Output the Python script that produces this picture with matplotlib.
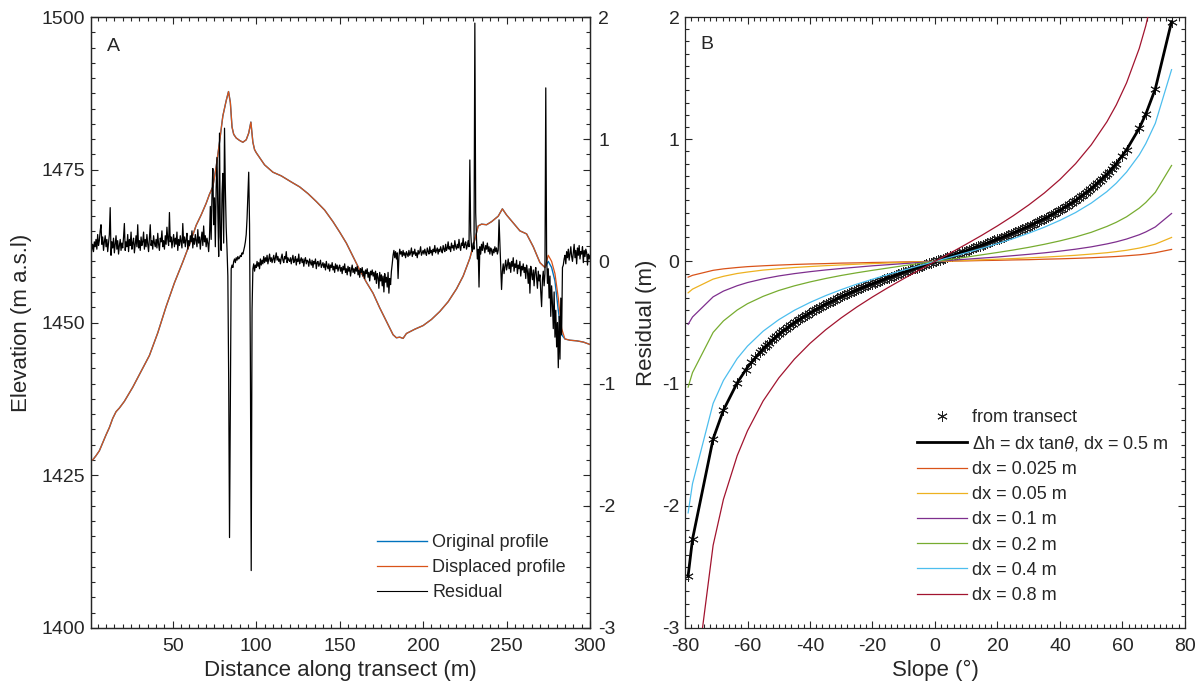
import numpy as np
import matplotlib
matplotlib.use("Agg")
import matplotlib.pyplot as plt
from matplotlib.ticker import MultipleLocator, FixedLocator
from matplotlib.lines import Line2D

plt.rcParams['font.family'] = ['Liberation Sans', 'DejaVu Sans']
plt.rcParams['mathtext.fontset'] = 'custom'
plt.rcParams['mathtext.rm'] = 'Liberation Sans'
plt.rcParams['mathtext.it'] = 'Liberation Sans:italic'
plt.rcParams['axes.unicode_minus'] = False

# ---------------- Panel A data ----------------
prof_x = [0, 2, 4, 6, 8, 10, 12, 14, 16, 18, 21, 26, 31, 36, 41, 46, 51, 56, 61, 64, 67, 70,
          72, 74, 76, 78, 80, 82, 83.4, 84.5, 85.5, 86.5, 88, 90, 92, 94, 95.5, 96.8, 98, 99, 100,
          105, 110, 115, 121, 126, 131, 136, 141, 146, 150, 154, 158, 162, 166, 170, 174, 178,
          182, 184, 186, 188, 190, 195, 200, 205, 210, 215, 220, 224, 228, 231, 233, 235, 238,
          241, 245, 247.5, 250, 254, 258, 262, 266, 270, 273, 275, 277, 279, 281, 283, 285, 288,
          292, 296, 300]
orig_elev = [1427.5, 1427.5, 1428.2, 1429.0, 1430.3, 1431.6, 1432.8, 1434.3, 1435.4, 1436.0,
             1437.1, 1439.4, 1442.0, 1444.6, 1448.3, 1452.6, 1456.5, 1459.9, 1463.5, 1465.9,
             1467.6, 1469.5, 1471.0, 1472.2, 1475.5, 1479.5, 1483.8, 1486.3, 1487.8, 1486.0,
             1482.0, 1480.8, 1480.2, 1479.8, 1479.5, 1479.9, 1481.0, 1482.8, 1479.5, 1478.3,
             1477.8, 1475.8, 1474.6, 1474.0, 1473.0, 1472.2, 1471.1, 1469.8, 1468.4, 1466.5,
             1464.8, 1463.0, 1460.8, 1458.6, 1456.6, 1454.8, 1452.4, 1450.2, 1448.0, 1447.5,
             1447.6, 1447.4, 1448.2, 1448.9, 1449.5, 1450.5, 1451.8, 1453.4, 1455.5, 1457.6,
             1460.5, 1463.6, 1465.8, 1466.1, 1466.0, 1466.5, 1467.4, 1468.6, 1467.6, 1466.3,
             1465.0, 1464.5, 1462.4, 1459.8, 1459.0, 1460.0, 1459.0, 1456.8, 1452.0, 1448.0,
             1447.3, 1447.1, 1447.0, 1446.8, 1446.4]
disp_elev = [1427.5, 1427.5, 1428.2, 1429.0, 1430.3, 1431.6, 1432.8, 1434.3, 1435.4, 1436.0,
             1437.1, 1439.4, 1442.0, 1444.6, 1448.3, 1452.6, 1456.5, 1459.9, 1463.5, 1465.9,
             1467.6, 1469.5, 1471.0, 1472.2, 1475.5, 1479.5, 1483.8, 1486.3, 1487.8, 1486.0,
             1482.0, 1480.8, 1480.2, 1479.8, 1479.5, 1479.9, 1481.0, 1482.8, 1479.5, 1478.3,
             1477.8, 1475.8, 1474.6, 1474.0, 1473.0, 1472.2, 1471.1, 1469.8, 1468.4, 1466.5,
             1464.8, 1463.0, 1460.8, 1458.6, 1456.6, 1454.8, 1452.4, 1450.2, 1448.0, 1447.5,
             1447.6, 1447.4, 1448.2, 1448.9, 1449.5, 1450.5, 1451.8, 1453.4, 1455.5, 1457.6,
             1460.5, 1463.6, 1465.8, 1466.1, 1466.0, 1466.5, 1467.4, 1468.6, 1467.6, 1466.3,
             1465.0, 1464.5, 1462.4, 1459.8, 1459.0, 1461.0, 1460.0, 1458.0, 1454.0, 1449.0,
             1447.3, 1447.1, 1447.0, 1446.8, 1446.4]

# residual, sampled every 0.5 m from 0 m
residual = [
    0.00, 0.02, 0.05, 0.10, 0.14, 0.08, 0.16, 0.12, 0.18, 0.10, 0.22, 0.13, 0.17, 0.25, 0.30, 0.14, 0.20, 0.09, 0.16, 0.21,
    0.12, 0.18, 0.08, 0.15, 0.22, 0.44, 0.05, 0.16, 0.11, 0.19, 0.07, 0.14, 0.21, 0.10, 0.17, 0.06, 0.13, 0.18, 0.09, 0.15,
    0.11, 0.20, 0.31, 0.09, 0.16, 0.12, 0.22, 0.08, 0.18, 0.13, 0.24, 0.10, 0.15, 0.19, 0.07, 0.14, 0.21, 0.12, 0.30, 0.11,
    0.17, 0.09, 0.20, 0.13, 0.16, 0.24, 0.10, 0.18, 0.12, 0.22, 0.14, 0.08, 0.19, 0.30, 0.13, 0.17, 0.10, 0.21, 0.15, 0.12,
    0.18, 0.11, 0.23, 0.14, 0.09, 0.19, 0.16, 0.25, 0.12, 0.17, 0.10, 0.21, 0.14, 0.28, 0.18, 0.13, 0.40, 0.16, 0.20, 0.11,
    0.17, 0.22, 0.12, 0.19, 0.14, 0.24, 0.09, 0.18, 0.13, 0.21, 0.16, 0.11, 0.31, 0.15, 0.20, 0.12, 0.18, 0.23, 0.10, 0.17,
    0.13, 0.21, 0.16, 0.25, 0.11, 0.19, 0.14, 0.22, 0.17, 0.12, 0.26, 0.15, 0.20, 0.10, 0.18, 0.24, 0.13, 0.29, 0.16, 0.21,
    0.12, 0.19, 0.15, 0.08, 0.20, 0.45, 0.18, 0.55, 0.76, 0.30, 0.52, 0.12, 0.60, 0.85, 0.40, 0.04, 1.05, 0.20, 0.09, 0.55,
    0.72, 0.15, 1.09, 0.60, 0.28, 0.10, -0.12, -0.97, -2.26, -1.10, -0.06, -0.03, -0.05, 0.00, 0.02, -0.01, 0.03, 0.01, 0.04, 0.02,
    0.03, 0.05, 0.04, 0.07, 0.06, 0.09, 0.12, 0.16, 0.22, 0.35, 0.55, 0.73, 0.30, -0.80, -2.53, -0.40, -0.06, -0.02, -0.08, -0.03,
    -0.05, 0.00, -0.04, -0.01, -0.06, 0.02, -0.03, 0.01, -0.02, 0.04, -0.01, 0.03, 0.00, 0.05, -0.02, 0.02, 0.06, 0.00, 0.03, -0.01,
    0.02, 0.05, -0.01, 0.03, 0.07, 0.01, 0.04, 0.00, 0.02, -0.02, 0.03, 0.06, 0.01, -0.01, 0.04, 0.02, 0.08, -0.01, 0.03, 0.01,
    0.00, 0.03, -0.02, 0.02, 0.05, -0.01, 0.01, 0.04, -0.03, 0.02, 0.00, 0.06, -0.02, 0.01, 0.03, -0.01, 0.02, -0.04, 0.01, 0.03,
    -0.02, 0.01, 0.00, -0.04, 0.02, -0.01, -0.03, 0.01, -0.05, 0.00, -0.02, 0.02, -0.06, -0.01, 0.00, -0.04, -0.02, 0.01, -0.05, -0.03,
    -0.01, -0.05, -0.02, -0.07, 0.00, -0.04, -0.06, -0.02, -0.08, -0.03, -0.05, -0.01, -0.07, -0.04, -0.09, -0.02, -0.06, -0.03, -0.08, -0.05,
    -0.03, -0.08, -0.05, -0.10, -0.04, -0.07, -0.02, -0.09, -0.06, -0.11, -0.04, -0.08, -0.05, -0.12, -0.07, -0.03, -0.09, -0.06, -0.10, -0.05,
    -0.08, -0.04, -0.11, -0.07, -0.13, -0.06, -0.09, -0.05, -0.12, -0.08, -0.14, -0.07, -0.10, -0.06, -0.13, -0.09, -0.16, -0.08, -0.11, -0.07,
    -0.12, -0.09, -0.15, -0.08, -0.18, -0.10, -0.13, -0.22, -0.09, -0.16, -0.11, -0.20, -0.12, -0.25, -0.10, -0.17, -0.13, -0.21, -0.09, -0.26,
    -0.14, -0.19, -0.08, -0.02, 0.05, 0.09, 0.03, 0.08, 0.02, 0.07, -0.14, 0.04, 0.10, 0.06, 0.08, 0.04, 0.09, 0.05, 0.07, 0.03,
    0.08, 0.06, 0.04, 0.09, 0.05, 0.07, 0.11, 0.04, 0.08, 0.06, 0.10, 0.05, 0.07, 0.03, 0.09, 0.06, 0.08, 0.12, 0.05, 0.07,
    0.09, 0.06, 0.10, 0.07, 0.05, 0.11, 0.08, 0.06, 0.12, 0.07, 0.09, 0.05, 0.10, 0.08, 0.13, 0.07, 0.09, 0.11, 0.06, 0.10,
    0.08, 0.12, 0.09, 0.07, 0.13, 0.10, 0.08, 0.14, 0.09, 0.11, 0.16, 0.10, 0.12, 0.08, 0.15, 0.11, 0.13, 0.09, 0.17, 0.12,
    0.10, 0.14, 0.11, 0.18, 0.12, 0.09, 0.15, 0.13, 0.19, 0.11, 0.14, 0.16, 0.10, 0.13, 0.17, 0.12, 0.83, 0.25, 0.12, 0.08,
    0.15, 0.10, 1.95, 0.40, 0.18, 0.02, 0.10, -0.21, 0.12, 0.06, 0.14, 0.09, 0.16, 0.11, 0.07, 0.13, 0.10, 0.15, 0.08, 0.12,
    0.06, 0.11, 0.09, 0.05, 0.10, 0.07, 0.12, 0.08, 0.11, 0.06, 0.09, 0.34, 0.15, -0.05, -0.23, -0.08, -0.02, -0.10, -0.04, 0.01,
    -0.07, -0.03, 0.02, -0.06, -0.01, -0.09, 0.00, -0.04, 0.03, -0.08, -0.02, -0.05, 0.01, -0.10, -0.03, -0.06, 0.00, -0.12, -0.04, -0.07,
    -0.02, -0.09, -0.05, -0.14, -0.03, -0.08, -0.18, -0.06, -0.26, -0.04, -0.10, -0.15, -0.07, -0.20, -0.09, -0.05, -0.13, -0.22, -0.08, -0.16,
    -0.11, -0.25, -0.37, -0.15, -0.08, -0.20, -0.10, 1.42, 0.05, -0.18, -0.06, -0.30, -0.12, -0.45, -0.20, -0.35, -0.55, -0.25, -0.62, -0.40,
    -0.70, -0.50, -0.87, -0.45, -0.80, -0.30, -0.60, -0.05, -0.03, 0.02, 0.05, -0.02, 0.08, 0.03, 0.10, 0.01, 0.06, 0.12, 0.04, 0.00,
    0.07, 0.14, 0.03, 0.09, -0.02, 0.11, 0.05, 0.13, 0.02, 0.08, 0.06, 0.12, -0.01, 0.09, 0.04, 0.10, 0.07, -0.03, 0.06, 0.02,
    0.05]
res_step = 0.5

# ---------------- Panel B data ----------------
curve_slope = [-79, -77.6, -71, -67.7, -63.3, -60, -55, -50, -45, -40, -35, -30, -25, -20, -15, -10, -5, 0,
               5, 10, 15, 20, 25, 30, 35, 40, 45, 50, 55, 58, 61.3, 65.35, 67.45, 70.5, 75.7]
dh_05 = [-2.573, -2.274, -1.452, -1.217, -0.994, -0.866, -0.714, -0.596, -0.500, -0.420, -0.350, -0.289,
         -0.233, -0.182, -0.134, -0.088, -0.044, 0, 0.044, 0.088, 0.134, 0.182, 0.233, 0.289, 0.350,
         0.420, 0.500, 0.596, 0.714, 0.800, 0.913, 1.089, 1.205, 1.412, 1.962]
dx_0025 = [-0.129, -0.114, -0.073, -0.061, -0.050, -0.043, -0.036, -0.030, -0.025, -0.021, -0.018, -0.014,
           -0.012, -0.009, -0.007, -0.004, -0.002, 0, 0.002, 0.004, 0.007, 0.009, 0.012, 0.014, 0.018,
           0.021, 0.025, 0.030, 0.036, 0.040, 0.046, 0.054, 0.060, 0.071, 0.098]
dx_005 = [-0.257, -0.227, -0.145, -0.122, -0.099, -0.087, -0.071, -0.060, -0.050, -0.042, -0.035, -0.029,
          -0.023, -0.018, -0.013, -0.009, -0.004, 0, 0.004, 0.009, 0.013, 0.018, 0.023, 0.029, 0.035,
          0.042, 0.050, 0.060, 0.071, 0.080, 0.091, 0.109, 0.121, 0.141, 0.196]
dx_01 = [-0.515, -0.455, -0.290, -0.243, -0.199, -0.173, -0.143, -0.119, -0.100, -0.084, -0.070, -0.058,
         -0.047, -0.036, -0.027, -0.018, -0.009, 0, 0.009, 0.018, 0.027, 0.036, 0.047, 0.058, 0.070,
         0.084, 0.100, 0.119, 0.143, 0.160, 0.183, 0.218, 0.241, 0.282, 0.392]
dx_02 = [-1.029, -0.910, -0.581, -0.487, -0.398, -0.346, -0.286, -0.238, -0.200, -0.168, -0.140, -0.115,
         -0.093, -0.073, -0.054, -0.035, -0.017, 0, 0.017, 0.035, 0.054, 0.073, 0.093, 0.115, 0.140,
         0.168, 0.200, 0.238, 0.286, 0.320, 0.365, 0.436, 0.482, 0.565, 0.785]
dx_04 = [-2.058, -1.819, -1.162, -0.974, -0.795, -0.693, -0.571, -0.477, -0.400, -0.336, -0.280, -0.231,
         -0.186, -0.146, -0.107, -0.071, -0.035, 0, 0.035, 0.071, 0.107, 0.146, 0.186, 0.231, 0.280,
         0.336, 0.400, 0.477, 0.571, 0.640, 0.731, 0.871, 0.964, 1.130, 1.569]
dx_08 = [-4.116, -3.638, -2.323, -1.947, -1.590, -1.386, -1.142, -0.954, -0.800, -0.671, -0.560, -0.462,
         -0.373, -0.291, -0.214, -0.141, -0.070, 0, 0.070, 0.141, 0.214, 0.291, 0.373, 0.462, 0.560,
         0.671, 0.800, 0.954, 1.142, 1.280, 1.461, 1.742, 1.928, 2.259, 3.138]

star_slope = [-79, -77.6, -71, -67.7, -63.3, -60.6, -58.8, -57.5,
              -56, -54.5, -53, -51.5, -50, -48.5, -47, -45.5, -44, -42.5, -41, -39.5, -38, -36.5,
              -35, -33.5, -32, -30.5, -29, -27.5, -26, -24.5, -23, -21.5, -20, -18.5, -17, -15.5,
              -14, -12.5, -11, -9.5, -8, -6.5, -5, -3.5, -2, -0.5,
              1, 2.5, 4, 5.5, 7, 8.5, 10, 11.5, 13, 14.5, 16, 17.5, 19, 20.5, 22, 23.5, 25, 26.5,
              28, 29.5, 31, 32.5, 34, 35.5, 37, 38.5, 40, 41.5, 43, 44.5, 46, 47.5, 49, 50.5, 52,
              53.5, 55, 56.5, 58, 60, 61.3, 65.35, 67.45, 70.5, 75.7,
              -55.25, -53.75, -52.25, -50.75, -49.25, -47.75, -46.25, -44.75, -43.25, -41.75,
              -40.25, -38.75, -37.25, -35.75, -34.25, -32.75, -31.25, -29.75, -28.25, -26.75,
              -25.25, -23.75, -22.25, -20.75, -19.25, -17.75, -16.25, -14.75, -13.25, -11.75,
              -10.25, -8.75, -7.25, -5.75, -4.25, -2.75, -1.25,
              0.25, 1.75, 3.25, 4.75, 6.25, 7.75, 9.25, 10.75, 12.25, 13.75, 15.25, 16.75, 18.25,
              19.75, 21.25, 22.75, 24.25, 25.75, 27.25, 28.75, 30.25, 31.75, 33.25, 34.75, 36.25,
              37.75, 39.25, 40.75, 42.25, 43.75, 45.25, 46.75, 48.25, 49.75, 51.25, 52.75, 54.25,
              55.75, 57.25]
star_resid = [-2.573, -2.274, -1.452, -1.217, -0.994, -0.887, -0.826, -0.785,
              -0.741, -0.701, -0.664, -0.629, -0.596, -0.565, -0.536, -0.509, -0.483, -0.458, -0.435,
              -0.412, -0.391, -0.370, -0.350, -0.331, -0.312, -0.295, -0.277, -0.260, -0.244, -0.228,
              -0.212, -0.197, -0.182, -0.167, -0.153, -0.139, -0.125, -0.111, -0.097, -0.084, -0.070,
              -0.057, -0.044, -0.031, -0.017, -0.004,
              0.009, 0.022, 0.035, 0.048, 0.061, 0.075, 0.088, 0.102, 0.115, 0.129, 0.143, 0.158,
              0.172, 0.187, 0.202, 0.217, 0.233, 0.249, 0.266, 0.283, 0.300, 0.319, 0.337, 0.357,
              0.377, 0.398, 0.420, 0.442, 0.466, 0.491, 0.518, 0.546, 0.575, 0.607, 0.640, 0.676,
              0.714, 0.755, 0.800, 0.866, 0.913, 1.089, 1.205, 1.412, 1.962,
              -0.721, -0.682, -0.646, -0.612, -0.580, -0.550, -0.522, -0.496, -0.470, -0.446,
              -0.423, -0.401, -0.380, -0.360, -0.340, -0.322, -0.303, -0.286, -0.269, -0.252,
              -0.236, -0.220, -0.205, -0.189, -0.175, -0.160, -0.146, -0.132, -0.118, -0.104,
              -0.090, -0.077, -0.064, -0.050, -0.037, -0.024, -0.011,
              0.002, 0.015, 0.028, 0.042, 0.055, 0.068, 0.081, 0.095, 0.109, 0.122, 0.136, 0.150,
              0.165, 0.180, 0.194, 0.210, 0.225, 0.241, 0.258, 0.274, 0.292, 0.309, 0.328, 0.347,
              0.367, 0.387, 0.409, 0.431, 0.454, 0.479, 0.504, 0.532, 0.560, 0.591, 0.623, 0.658,
              0.695, 0.734, 0.777]

dx_labels = ['dx = 0.025 m', 'dx = 0.05 m', 'dx = 0.1 m', 'dx = 0.2 m', 'dx = 0.4 m', 'dx = 0.8 m']
dx_colors = ['#D95319', '#EDB120', '#7E2F8E', '#77AC30', '#4DBEEE', '#A2142F']

# ---------------- figure ----------------
W, H = 1201, 692
fig = plt.figure(figsize=(W / 100, H / 100), dpi=100)
axc = '#262626'
TICK = 14
LAB = 16
LEG = 13

def px_rect(l, r, t, b):
    return [l / W, 1 - b / H, (r - l) / W, (b - t) / H]

def style(ax):
    for s in ax.spines.values():
        s.set_color(axc)
        s.set_linewidth(0.9)
    ax.tick_params(which='both', direction='in', colors=axc, labelsize=TICK, width=0.8)
    ax.tick_params(which='major', length=5)
    ax.tick_params(which='minor', length=2.6)

# Panel A
axA = fig.add_axes(px_rect(91, 590, 17, 628))
axR = axA.twinx()
axA.plot(prof_x, orig_elev, color='#0072BD', lw=1.0, zorder=2)
axA.plot(prof_x, disp_elev, color='#D95319', lw=0.9, zorder=3)
res_x = np.arange(len(residual)) * res_step
axR.plot(res_x, residual, color='black', lw=0.9)
axA.set_xlim(1, 300)
axA.set_ylim(1400, 1500)
axR.set_ylim(-3, 2)
axA.xaxis.set_major_locator(FixedLocator([50, 100, 150, 200, 250, 300]))
axA.xaxis.set_minor_locator(MultipleLocator(5))
axA.yaxis.set_major_locator(MultipleLocator(25))
axA.yaxis.set_minor_locator(MultipleLocator(2.5))
axR.yaxis.set_major_locator(MultipleLocator(1))
style(axA)
style(axR)
axA.tick_params(which='both', top=True, right=True, labelright=False)
axR.tick_params(which='both', left=False, right=True, pad=6)
axA.tick_params(axis='x', pad=7)
axA.tick_params(axis='y', pad=4)
axA.set_xlabel('Distance along transect (m)', fontsize=LAB, color=axc, labelpad=4)
axA.set_ylabel('Elevation (m a.s.l)', fontsize=LAB, color=axc, labelpad=7)
axA.text(0.044, 0.952, 'A', transform=axA.transAxes, fontsize=TICK, color=axc,
         ha='center', va='center')
hA = [Line2D([], [], color='#0072BD', lw=1.0), Line2D([], [], color='#D95319', lw=0.9),
      Line2D([], [], color='black', lw=0.8)]
axA.legend(hA, ['Original profile', 'Displaced profile', 'Residual'], loc='upper left',
           bbox_to_anchor=(377 / W, 1 - 534 / H), bbox_transform=fig.transFigure,
           frameon=False, fontsize=LEG, handlelength=2.75, handletextpad=0.3,
           borderpad=0, borderaxespad=0, labelspacing=0.45, labelcolor=axc)

# Panel B
axB = fig.add_axes(px_rect(685, 1185, 17, 628))
axB.plot(star_slope, star_resid, linestyle='none', marker=(6, 2, 0), markersize=7.5,
         markeredgewidth=0.7, color='#222222', zorder=3)
axB.plot(curve_slope, dh_05, color='black', lw=2.0, zorder=4)
for vals, c in zip([dx_0025, dx_005, dx_01, dx_02, dx_04, dx_08], dx_colors):
    axB.plot(curve_slope, vals, color=c, lw=0.9, zorder=5)
axB.set_xlim(-80, 80)
axB.set_ylim(-3, 2)
axB.xaxis.set_major_locator(MultipleLocator(20))
axB.xaxis.set_minor_locator(MultipleLocator(2))
axB.yaxis.set_major_locator(MultipleLocator(1))
axB.yaxis.set_minor_locator(MultipleLocator(0.1))
style(axB)
axB.tick_params(which='both', top=True, right=True)
axB.tick_params(axis='x', pad=7)
axB.tick_params(axis='y', pad=4)
axB.set_xlabel('Slope (°)', fontsize=LAB, color=axc, labelpad=4)
axB.set_ylabel('Residual (m)', fontsize=LAB, color=axc, labelpad=4)
axB.text(0.044, 0.955, 'B', transform=axB.transAxes, fontsize=TICK, color=axc,
         ha='center', va='center')
hB = [Line2D([], [], linestyle='none', marker=(6, 2, 0), markersize=7.5, markeredgewidth=0.7,
             color='#222222'),
      Line2D([], [], color='black', lw=2.0)] + \
     [Line2D([], [], color=c, lw=0.9) for c in dx_colors]
labB = ['from transect', r'Δh = dx tan$\it{\theta}$, dx = 0.5 m'] + dx_labels
axB.legend(hB, labB, loc='upper left', bbox_to_anchor=(917 / W, 1 - 409 / H),
           bbox_transform=fig.transFigure, frameon=False, fontsize=LEG, handlelength=2.75,
           handletextpad=0.3, borderpad=0, borderaxespad=0, labelspacing=0.45, labelcolor=axc)

fig.savefig('out.png', dpi=100)
